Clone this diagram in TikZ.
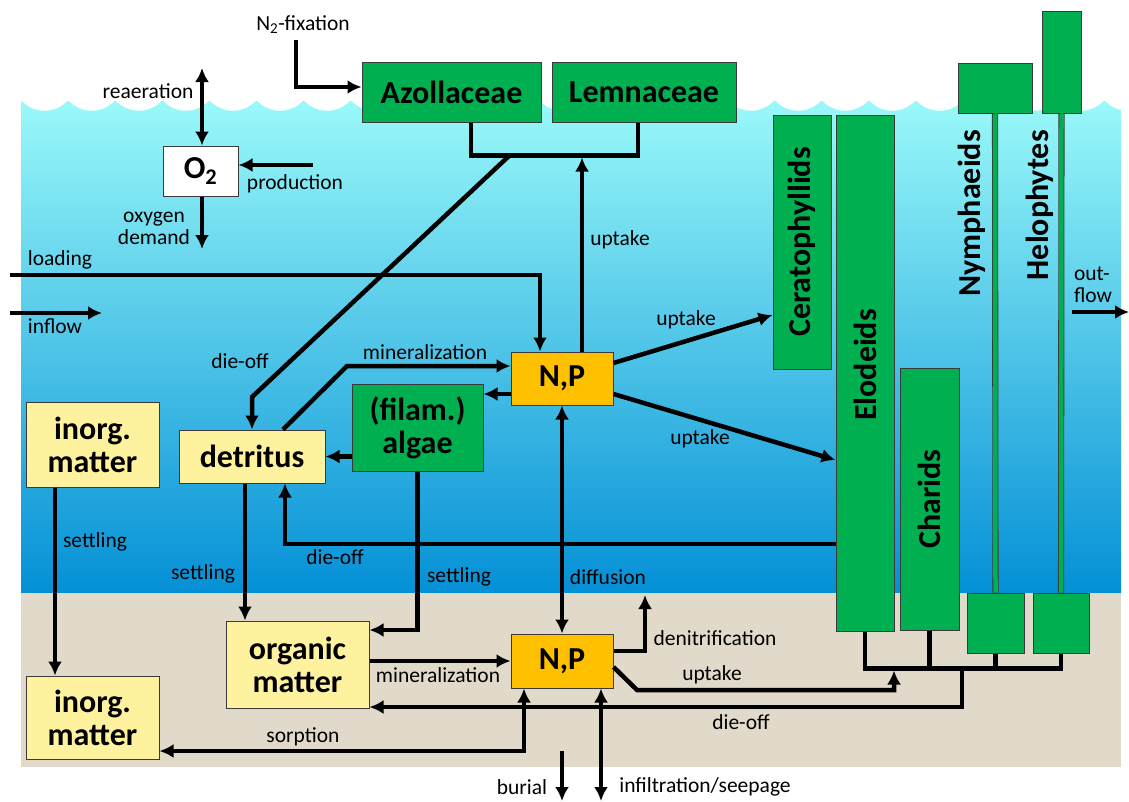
\documentclass[tikz,border=0pt]{standalone}
\usepackage{fontspec}
\setmainfont{Carlito}
\usepackage{tikz}
\usetikzlibrary{arrows.meta}
\tikzset{>={Latex[length=14pt,width=14pt]}}

\definecolor{plantgreen}{HTML}{00B050}
\definecolor{matteryellow}{HTML}{FFF29F}
\definecolor{nutrorange}{HTML}{FFC000}
\definecolor{edgegray}{HTML}{3A3A3A}
\definecolor{watertop}{HTML}{9AF9F9}
\definecolor{waterbot}{HTML}{0490D6}
\definecolor{sediment}{HTML}{E1D9C9}

\newcommand{\boxtxt}{\fontsize{32}{33}\selectfont\bfseries}
\newcommand{\lbltxt}{\fontsize{21.5}{22}\selectfont}

\begin{document}
\begin{tikzpicture}[x=1pt, y=-1pt,
    flow/.style={line width=4.5pt},
    box/.style={draw=edgegray, line width=1pt, inner sep=0pt, font=\boxtxt, align=center},
    plant/.style={box, fill=plantgreen},
    matter/.style={box, fill=matteryellow},
    nutr/.style={box, fill=nutrorange},
    tall/.style={font=\boxtxt, rotate=90, inner sep=0pt},
    lbl/.style={font=\lbltxt, inner sep=0pt, align=center}]
  \useasboundingbox (0,0) rectangle (1129,801);
  \fill[white] (0,0) rectangle (1129,801);

  % water, sediment and waves
  \shade[top color=watertop, bottom color=waterbot] (21,101) rectangle (1121,593);
  \fill[sediment] (21,593) rectangle (1121,767);
  \foreach \k in {0,...,23}
    \fill[white] (21+47.1*\k,100) .. controls (33.85+47.1*\k,114.3) and (55.25+47.1*\k,114.3) .. (68.1+47.1*\k,100) -- cycle;
  \fill[white] (1121,95) rectangle (1160,120);

  % plants
  \node[plant, minimum width=179, minimum height=60] (azolla) at (451.5,92) {Azollaceae};
  \node[plant, minimum width=184, minimum height=60] (lemna) at (644,92) {Lemnaceae};
  \node[plant, minimum width=58, minimum height=254] (cerato) at (802,242) {};
  \node[plant, minimum width=58, minimum height=516] (elodeids) at (865,373) {};
  \node[plant, minimum width=59, minimum height=262] (charids) at (929.5,499) {};
  \node[plant, minimum width=74, minimum height=50] (nymleaf) at (995,88) {};
  \node[plant, minimum width=39, minimum height=102] (heloleaf) at (1061.5,62) {};
  \node[plant, minimum width=57, minimum height=60] (nymroot) at (995.5,623) {};
  \node[plant, minimum width=56, minimum height=60] (heloroot) at (1061,623) {};
  \draw[draw=edgegray, line width=0.8pt, double=plantgreen, double distance=4.5pt] (nymleaf.south) -- (nymroot.north);
  \draw[draw=edgegray, line width=0.8pt, double=plantgreen, double distance=4.5pt] (heloleaf.south) -- (heloroot.north);
  \node[tall] at (cerato) {Ceratophyllids};
  \node[tall] at ([yshift=8pt]elodeids) {Elodeids};
  \node[tall] at (charids) {Charids};
  \node[tall, anchor=east] at (972,130) {Nymphaeids};
  \node[tall, anchor=east] at (1040,130) {Helophytes};

  % compartments
  \node[box, fill=white, minimum width=75, minimum height=50] (o2) at (200.5,171) {O\textsubscript{2}};
  \node[nutr, minimum width=102, minimum height=53] (npup) at (562,378.5) {N,P};
  \node[plant, minimum width=131, minimum height=87] (algae) at (417.5,427.5) {(filam.)\\algae};
  \node[matter, minimum width=146, minimum height=53] (detritus) at (252,456.5) {detritus};
  \node[matter, minimum width=133, minimum height=85] (inorgup) at (92.5,444.5) {inorg.\\matter};
  \node[matter, minimum width=143, minimum height=87] (orgmat) at (297.5,664.5) {organic\\matter};
  \node[matter, minimum width=133, minimum height=83] (inorglow) at (92.5,717.5) {inorg.\\matter};
  \node[nutr, minimum width=102, minimum height=54] (nplow) at (562,661) {N,P};

  % free ends
  \coordinate (n2a) at (296,40);
  \coordinate (air) at (202,68);
  \coordinate (prod) at (313,165);
  \coordinate (odem) at (202,249);
  \coordinate (loadin) at (10,275);
  \coordinate (inflowa) at (10,313);
  \coordinate (inflowb) at (102,313);
  \coordinate (outflowa) at (1072,312);
  \coordinate (outflowb) at (1129,312);
  \coordinate (floatup) at (582,157.5);
  \coordinate (floatdie) at (510,155);
  \coordinate (diebend) at (252,397);
  \coordinate (minbend) at (347,366);
  \coordinate (denit) at (645,595);
  \coordinate (upbend) at (637,690);
  \coordinate (rootup) at (894,670.5);
  \coordinate (rootdie) at (962,668);
  \coordinate (burA) at (562,751);
  \coordinate (burB) at (562,801);
  \coordinate (infil) at (601,801);

  % flows
  \draw[flow, ->] (n2a) |- ([yshift=5pt]azolla.west);
  \draw[flow, <->] (air) -- (o2.north -| air);
  \draw[flow, ->] (prod) -- (o2.east |- prod);
  \draw[flow, ->] (o2.south -| odem) -- (odem);
  \draw[flow, ->] (loadin) -| ([xshift=-22pt]npup.north);
  \draw[flow, ->] (inflowa) -- (inflowb);
  \draw[flow, ->] (outflowa) -- (outflowb);
  \draw[flow] ([xshift=19.5pt]azolla.south) -- ++(0,33) -| ([xshift=-6pt]lemna.south);
  \draw[flow, ->] ([xshift=20pt]npup.north) -- (floatup);
  \draw[flow, ->] (floatdie) -- (diebend) -- (detritus.north);
  \draw[flow, ->] ([xshift=31pt]detritus.north) -- (minbend) -- ([yshift=12.5pt]npup.west);
  \draw[flow, ->] ([yshift=-15.5pt]npup.west) -- ([yshift=-15.5pt]npup.west -| algae.east);
  \draw[flow, ->] (algae.west |- detritus.east) -- (detritus.east);
  \draw[flow, ->] ([xshift=-37.5pt]inorgup.south) -- ([xshift=-37.5pt]inorglow.north);
  \draw[flow, ->] ([xshift=-7pt]detritus.south) -- ([xshift=-7pt]detritus.south |- orgmat.north);
  \draw[flow, ->] ([yshift=-171pt]elodeids.west) -| ([xshift=33pt]detritus.south);
  \draw[flow, ->] (algae.south) |- ([yshift=34.5pt]orgmat.east);
  \draw[flow, <->] (npup.south) -- (nplow.north);
  \draw[flow, ->] ([yshift=15.5pt]npup.east) -- ([yshift=-73pt]cerato.west);
  \draw[flow, ->] ([yshift=-15.5pt]npup.east) -- ([yshift=-87pt]elodeids.west);
  \draw[flow, ->] ([yshift=3.5pt]orgmat.east) -- ([yshift=3.5pt]orgmat.east -| nplow.west);
  \draw[flow, ->] ([yshift=10pt]nplow.east) -| (denit);
  \draw[flow, ->] ([yshift=-6pt]nplow.east) -- (upbend) -| (rootup);
  \draw[flow] (elodeids.south) -- ++(0,37) -| (heloroot.south);
  \draw[flow] (charids.south) -- ++(0,38);
  \draw[flow] (nymroot.south) -- ++(0,15);
  \draw[flow, ->] (rootdie) |- ([yshift=-42.5pt]orgmat.east);
  \draw[flow, <->] ([xshift=-38pt]nplow.south) |- ([yshift=-33.5pt]inorglow.east);
  \draw[flow, ->] (burA) -- (burB);
  \draw[flow, <->] ([xshift=39pt]nplow.south) -- (infil);

  % labels
  \node[lbl] at (303,25) {N\textsubscript{2}-fixation};
  \node[lbl] at (148,91) {reaeration};
  \node[lbl] at (295,184) {production};
  \node[lbl] at (154,228) {oxygen\\demand};
  \node[lbl] at (60,260) {loading};
  \node[lbl] at (55,326) {inflow};
  \node[lbl, align=left] at (1093,285) {out-\\flow};
  \node[lbl] at (240,361) {die-off};
  \node[lbl] at (425,352) {mineralization};
  \node[lbl] at (620,240) {uptake};
  \node[lbl] at (686,320) {uptake};
  \node[lbl] at (700,439) {uptake};
  \node[lbl] at (335,557) {die-off};
  \node[lbl] at (95,542) {settling};
  \node[lbl] at (203,574) {settling};
  \node[lbl] at (459,577) {settling};
  \node[lbl] at (608,577) {diffusion};
  \node[lbl] at (715,638) {denitrification};
  \node[lbl] at (438,675) {mineralization};
  \node[lbl] at (712,675) {uptake};
  \node[lbl] at (741,722) {die-off};
  \node[lbl] at (303,737) {sorption};
  \node[lbl] at (522,787) {burial};
  \node[lbl] at (705,787) {infiltration/seepage};
\end{tikzpicture}
\end{document}
